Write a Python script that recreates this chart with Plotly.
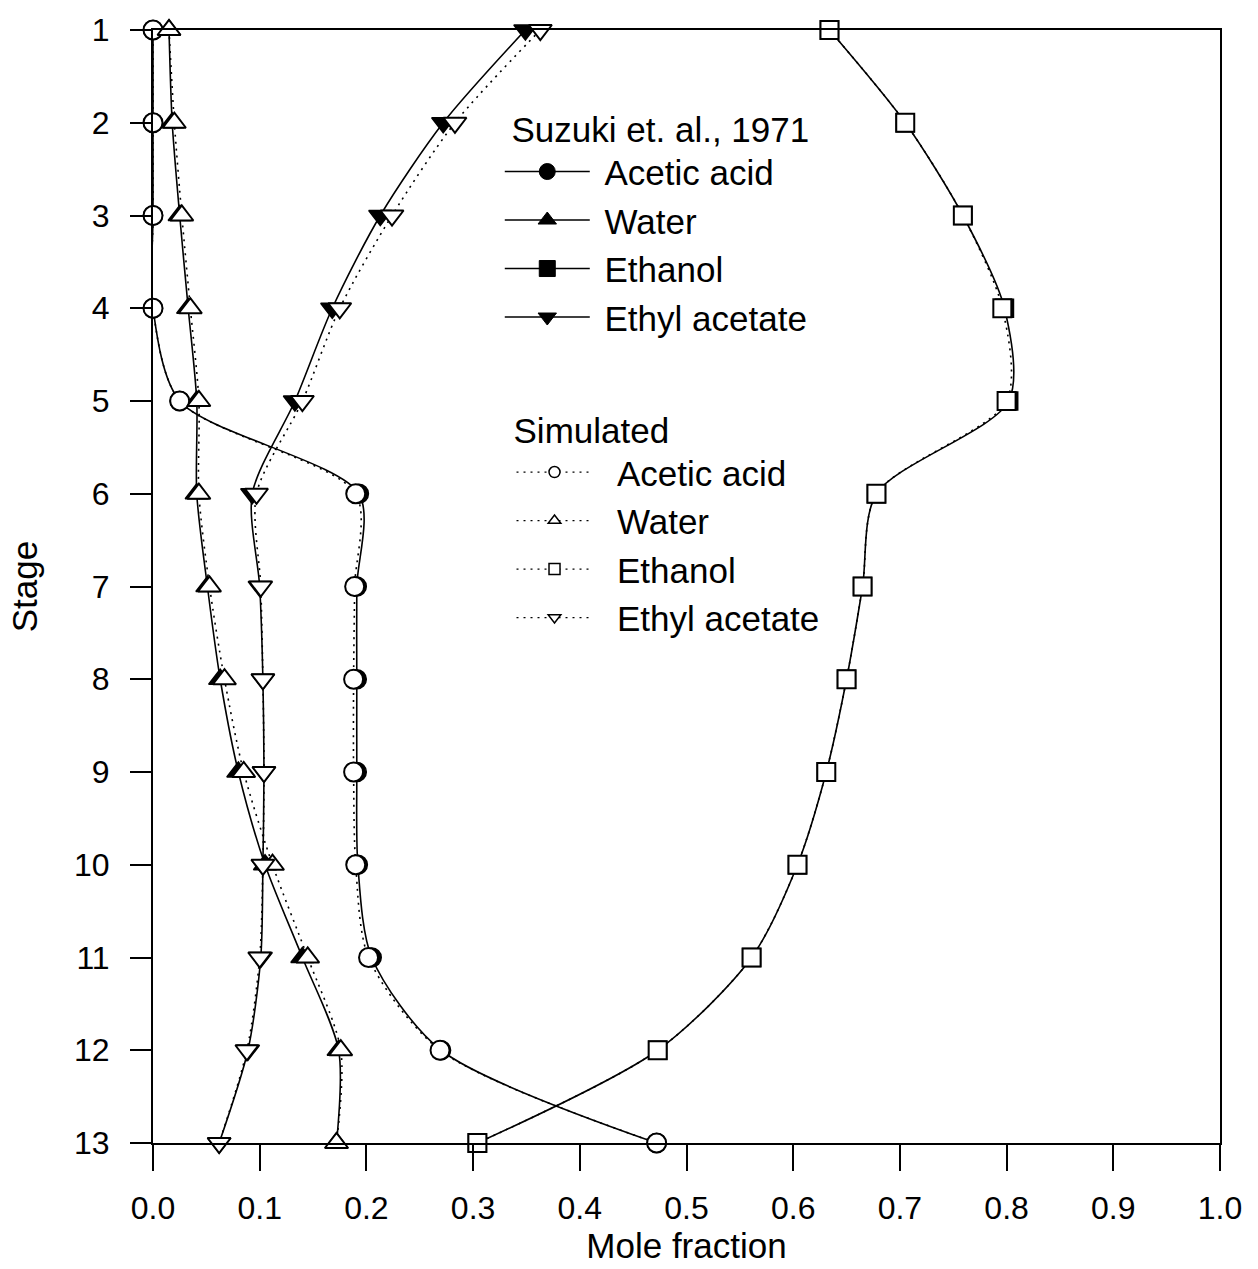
import plotly.graph_objects as go

# Column stage numbers (1 = top, 13 = bottom)
stages = list(range(1, 14))

# Measured liquid compositions (Suzuki et al., 1971)
acetic_exp = [0.0, 0.0, 0.0, 0.0, 0.025, 0.193, 0.191, 0.191, 0.191, 0.192, 0.205, 0.27, 0.472]
water_exp = [0.015, 0.018, 0.025, 0.033, 0.041, 0.041, 0.051, 0.063, 0.080, 0.105, 0.140, 0.174, 0.172]
ethanol_exp = [0.634, 0.705, 0.759, 0.798, 0.802, 0.678, 0.665, 0.650, 0.631, 0.604, 0.561, 0.473, 0.304]
ethyl_exp = [0.349, 0.272, 0.213, 0.168, 0.133, 0.093, 0.100, 0.103, 0.104, 0.103, 0.101, 0.089, 0.062]

# Simulated liquid compositions
acetic_sim = [0.0, 0.0, 0.0, 0.0, 0.025, 0.190, 0.189, 0.188, 0.188, 0.190, 0.202, 0.269, 0.472]
water_sim = [0.015, 0.020, 0.027, 0.035, 0.043, 0.043, 0.053, 0.067, 0.085, 0.112, 0.145, 0.176, 0.172]
ethanol_sim = [0.634, 0.705, 0.759, 0.796, 0.800, 0.678, 0.665, 0.650, 0.631, 0.604, 0.561, 0.473, 0.304]
ethyl_sim = [0.363, 0.283, 0.224, 0.175, 0.140, 0.097, 0.101, 0.103, 0.104, 0.103, 0.100, 0.088, 0.062]

components = ["Acetic acid", "Water", "Ethanol", "Ethyl acetate"]
symbols = ["circle", "triangle-up", "square", "triangle-down"]
marker_sizes = [19, 20, 18, 20]
exp_series = [acetic_exp, water_exp, ethanol_exp, ethyl_exp]
sim_series = [acetic_sim, water_sim, ethanol_sim, ethyl_sim]

x_ticks = [i / 10 for i in range(11)]
x_tick_text = [f"{v:.1f}" for v in x_ticks]

FONT = "Liberation Sans, Arial, Helvetica, sans-serif"
DOT = "2px,5px"
NB = "\u00a0"

fig = go.Figure()

# Measured profiles: filled markers on solid curves
for name, sym, ms, xs in zip(components, symbols, marker_sizes, exp_series):
    fig.add_trace(go.Scatter(
        x=xs, y=stages, mode="lines+markers", name=name, showlegend=False,
        line=dict(color="black", width=1.6, shape="spline", smoothing=0.8),
        marker=dict(symbol=sym, size=ms, color="black", line=dict(color="black", width=1.5)),
        cliponaxis=False,
    ))

# Simulated profiles: open markers on dotted curves
for name, sym, ms, xs in zip(components, symbols, marker_sizes, sim_series):
    fig.add_trace(go.Scatter(
        x=xs, y=stages, mode="lines+markers", name=name, showlegend=False,
        line=dict(color="black", width=1.6, dash=DOT, shape="spline", smoothing=0.8),
        marker=dict(symbol=sym, size=ms, color="white", line=dict(color="black", width=2)),
        cliponaxis=False,
    ))

# Legend entries
for name, sym in zip(components, symbols):
    fig.add_trace(go.Scatter(
        x=[None], y=[None], mode="lines+markers", name=NB + name, legend="legend",
        line=dict(color="black", width=1.5),
        marker=dict(symbol=sym, size=16, color="black", line=dict(color="black", width=1)),
    ))
for name, sym in zip(components, symbols):
    fig.add_trace(go.Scatter(
        x=[None], y=[None], mode="lines+markers", name=NB * 2 + name, legend="legend2",
        line=dict(color="black", width=1.2, dash=DOT),
        marker=dict(symbol=sym, size=11, color="white", line=dict(color="black", width=1.5)),
    ))

axis_common = dict(
    showline=True, linewidth=2, linecolor="black", mirror=True,
    ticks="outside", tickwidth=2, tickcolor="black",
    showgrid=False, zeroline=False,
    tickfont=dict(size=32, color="black", family=FONT),
)

fig.update_layout(
    width=1258, height=1269,
    margin=dict(l=153, r=38, t=23, b=125),
    plot_bgcolor="white", paper_bgcolor="white",
    font=dict(family=FONT, color="black"),
    xaxis=dict(
        range=[0, 1], tickvals=x_ticks, ticktext=x_tick_text, ticklen=26,
        ticklabelstandoff=10,
        title=dict(text="Mole fraction", font=dict(size=35), standoff=6),
        **axis_common,
    ),
    yaxis=dict(
        range=[13, 1], tickvals=stages, ticklen=21, ticklabelstandoff=14,
        title=dict(text="Stage", font=dict(size=35), standoff=26),
        **axis_common,
    ),
    legend=dict(
        x=0.325, y=0.94, xanchor="left", yanchor="top",
        bgcolor="rgba(0,0,0,0)", borderwidth=0,
        font=dict(size=35, family=FONT), itemwidth=85,
        title=dict(text=NB + "Suzuki et. al., 1971", font=dict(size=35, family=FONT)),
    ),
    legend2=dict(
        x=0.336, y=0.67, xanchor="left", yanchor="top",
        bgcolor="rgba(0,0,0,0)", borderwidth=0,
        font=dict(size=35, family=FONT), itemwidth=76,
        title=dict(text="Simulated", font=dict(size=35, family=FONT)),
    ),
)

fig.write_html("out.html")
